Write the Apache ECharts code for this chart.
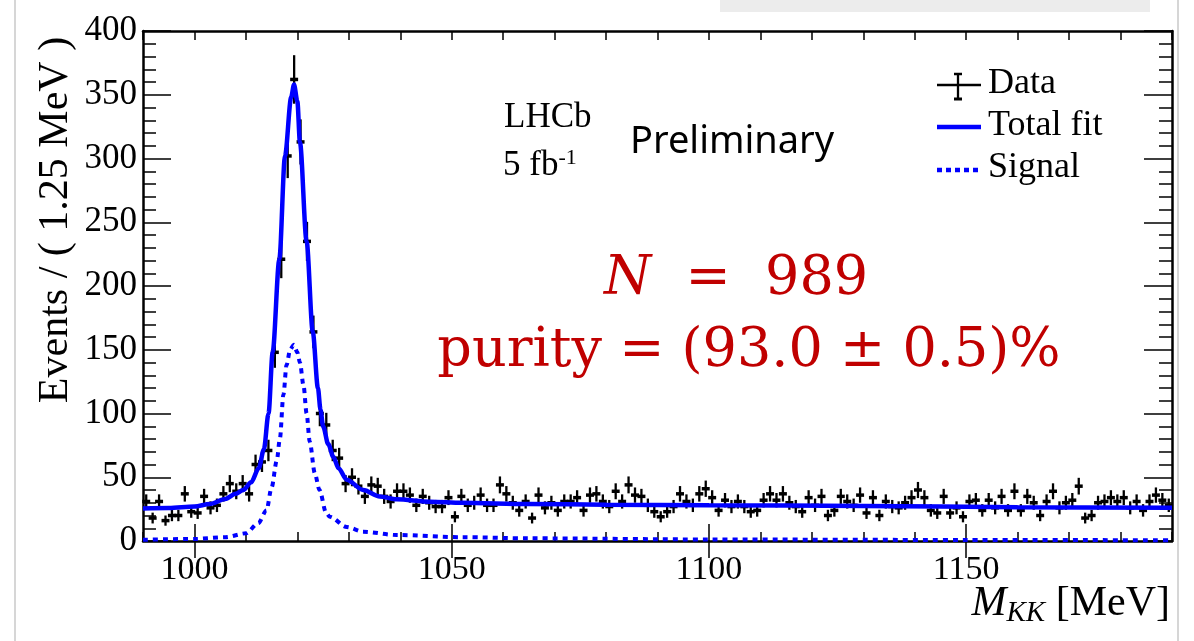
<!DOCTYPE html>
<html>
<head>
<meta charset="utf-8">
<script src="https://cdn.jsdelivr.net/npm/echarts@6/dist/echarts.min.js"></script>
<style>
html,body{margin:0;padding:0;background:#fff;}
#chart{width:1194px;height:641px;}
</style>
</head>
<body>
<div id="chart"></div>
<script>
// ---- Data ----
const binStart = 990;
const binWidth = 1.25;
const counts = [
  31, 18, 31, 16, 20, 20, 37, 23, 22, 35,
  26, 28, 37, 45, 39, 45, 37, 60, 62, 71,
  148, 221, 302, 362, 313, 235, 164, 100, 91, 71,
  65, 45, 50, 43, 35, 44, 43, 35, 31, 39,
  39, 36, 28, 35, 30, 27, 27, 34, 19, 35,
  28, 30, 36, 28, 28, 44, 37, 30, 24, 31,
  18, 36, 26, 30, 24, 31, 31, 34, 24, 36,
  37, 31, 27, 39, 31, 44, 36, 35, 28, 23,
  19, 23, 27, 37, 31, 28, 37, 41, 34, 24,
  32, 27, 31, 27, 23, 24, 32, 37, 32, 37,
  30, 27, 23, 34, 28, 35, 20, 24, 35, 31,
  28, 36, 22, 34, 20, 31, 27, 26, 30, 34,
  40, 34, 24, 22, 35, 22, 26, 19, 31, 32,
  24, 32, 26, 35, 24, 39, 24, 35, 30, 20,
  31, 39, 26, 30, 32, 43, 18, 20, 30, 31,
  34, 31, 34, 26, 31, 24, 31, 36, 32, 28
];
const massCenters = counts.map((_, i) => binStart + binWidth * (i + 0.5));

const totalFitX = [990, 995, 1000, 1003, 1006, 1008, 1009.5, 1011, 1012.5, 1013.5, 1014.4, 1015.2, 1016.5, 1017.6, 1018.8, 1019.35, 1020, 1020.5, 1021.8, 1023, 1024, 1024.5, 1025, 1026, 1027, 1028, 1029.6, 1032.8, 1036, 1039.3, 1045.8, 1052, 1065, 1080, 1100, 1130, 1160, 1190];
const totalFitY = [25.5, 25.8, 27, 29, 33, 37, 40, 46, 57, 72, 100, 148, 221, 302, 348, 358, 345, 313, 235, 164, 120, 103, 90, 76, 66, 57, 48, 40, 35, 32.7, 30.8, 30, 29, 28.5, 28, 27.5, 26.5, 26];

const signalX = [990, 1000, 1006, 1010, 1012.4, 1014, 1015, 1016, 1016.6, 1017.3, 1017.9, 1018.6, 1019.3, 1020, 1020.5, 1021.2, 1021.8, 1022.4, 1023.4, 1024.3, 1025.6, 1026.3, 1029.6, 1032.8, 1039.3, 1052, 1065, 1100, 1150, 1190];
const signalY = [1, 1.6, 3, 6, 14, 24, 42, 63, 80, 115, 138, 150, 154, 148, 140, 122, 100, 78, 53, 40, 22, 19, 11, 7.3, 4.7, 3, 2.1, 1.2, 0.8, 0.6];

const xTickLabels = [1000, 1050, 1100, 1150];
const yTickLabels = [0, 50, 100, 150, 200, 250, 300, 350, 400];

// ---- Chart ----
const chart = echarts.init(document.getElementById('chart'), null, {renderer: 'canvas'});
const SERIF = "'Liberation Serif', 'Times New Roman', serif";
const BLUE = '#0000ff';
const RED = '#c00000';

const baseX = {
  type: 'value', min: 990, max: 1190, interval: 10,
  splitLine: {show: false},
  axisLine: {show: true, onZero: false, lineStyle: {color: '#000', width: 2.5}},
  axisTick: {show: true, inside: true, length: 9, lineStyle: {color: '#000', width: 1.5}},
  axisLabel: {show: false}
};
const majorX = {
  type: 'value', min: 990, max: 1190,
  splitLine: {show: false},
  axisLine: {show: false},
  axisTick: {show: true, inside: true, length: 17, customValues: xTickLabels, lineStyle: {color: '#000', width: 1.5}},
  axisLabel: {show: false}
};

const option = {
  backgroundColor: '#fff',
  animation: false,
  grid: {left: 143, right: 22, top: 31, bottom: 100, containLabel: false},
  xAxis: [
    Object.assign({}, baseX, {position: 'bottom'}),
    Object.assign({}, majorX, {position: 'bottom',
      axisLabel: {show: true, customValues: xTickLabels, color: '#000', fontFamily: SERIF, fontSize: 34, margin: 12,
        formatter: v => String(v)}}),
    Object.assign({}, baseX, {position: 'top'}),
    Object.assign({}, majorX, {position: 'top'})
  ],
  yAxis: [
    {
      type: 'value', min: 0, max: 400, interval: 50, position: 'left',
      splitLine: {show: false},
      axisLine: {show: true, onZero: false, lineStyle: {color: '#000', width: 2.5}},
      axisTick: {show: true, inside: true, length: 28, lineStyle: {color: '#000', width: 1.5}},
      minorTick: {show: true, splitNumber: 5, length: 13, lineStyle: {color: '#000', width: 1.5}},
      axisLabel: {show: true, color: '#000', fontFamily: SERIF, fontSize: 35, margin: 6,
        formatter: v => (yTickLabels.indexOf(v) >= 0 ? String(v) : '')}
    },
    {
      type: 'value', min: 0, max: 400, interval: 50, position: 'right',
      splitLine: {show: false},
      axisLine: {show: true, onZero: false, lineStyle: {color: '#000', width: 2.5}},
      axisTick: {show: true, inside: true, length: 28, lineStyle: {color: '#000', width: 1.5}},
      minorTick: {show: true, splitNumber: 5, length: 13, lineStyle: {color: '#000', width: 1.5}},
      axisLabel: {show: false}
    }
  ],
  series: [
    {
      name: 'Data', type: 'custom', xAxisIndex: 0, yAxisIndex: 0, z: 2,
      data: counts.map((c, i) => [massCenters[i], c]),
      renderItem: function (params, api) {
        const x = api.value(0), y = api.value(1), e = Math.sqrt(y);
        const top = api.coord([x, y + e]);
        const bot = api.coord([x, Math.max(0, y - e)]);
        const l = api.coord([x - binWidth * 0.62, y]);
        const r = api.coord([x + binWidth * 0.62, y]);
        return {
          type: 'group',
          children: [
            {type: 'line', shape: {x1: top[0], y1: top[1], x2: bot[0], y2: bot[1]}, style: {stroke: '#000', lineWidth: 2.3}},
            {type: 'line', shape: {x1: l[0], y1: l[1], x2: r[0], y2: r[1]}, style: {stroke: '#000', lineWidth: 3.5}}
          ]
        };
      }
    },
    {
      name: 'Signal', type: 'line', xAxisIndex: 0, yAxisIndex: 0, z: 3,
      data: signalX.map((x, i) => [x, signalY[i]]),
      showSymbol: false, smooth: 0.3, smoothMonotone: 'x',
      lineStyle: {color: BLUE, width: 4, type: [5, 5]}
    },
    {
      name: 'Total fit', type: 'line', xAxisIndex: 0, yAxisIndex: 0, z: 4,
      data: totalFitX.map((x, i) => [x, totalFitY[i]]),
      showSymbol: false, smooth: 0.3, smoothMonotone: 'x',
      lineStyle: {color: BLUE, width: 4.5}
    }
  ],
  graphic: [
    // frame decorations of the screenshot
    {type: 'rect', shape: {x: 720, y: 0, width: 430, height: 12}, style: {fill: '#ececec'}, silent: true},
    {type: 'line', shape: {x1: 15, y1: 0, x2: 15, y2: 641}, style: {stroke: '#d6d6d6', lineWidth: 2}, silent: true},
    {type: 'line', shape: {x1: 1178, y1: 0, x2: 1178, y2: 641}, style: {stroke: '#d6d6d6', lineWidth: 2}, silent: true},
    // axis titles
    {type: 'text', x: 56, y: 220, rotation: Math.PI / 2,
      style: {text: 'Events / ( 1.25 MeV )', font: '42px ' + SERIF, fill: '#000', align: 'center', verticalAlign: 'middle'}},
    {type: 'text', x: 1170, y: 604,
      style: {
        text: '{i|M}{s|KK}{n| [MeV]}', align: 'right', verticalAlign: 'middle',
        rich: {
          i: {font: 'italic 42px ' + SERIF, fill: '#000'},
          s: {font: 'italic 29px ' + SERIF, fill: '#000', padding: [18, 0, 0, 0]},
          n: {font: '42px ' + SERIF, fill: '#000'}
        }
      }},
    // LHCb labels
    {type: 'text', x: 504, y: 118, style: {text: 'LHCb', font: '35px ' + SERIF, fill: '#000', verticalAlign: 'middle'}},
    {type: 'text', x: 503, y: 166,
      style: {text: '{n|5 fb}{s|-1}', verticalAlign: 'middle',
        rich: {n: {font: '35px ' + SERIF, fill: '#000'}, s: {font: '22px ' + SERIF, fill: '#000', padding: [0, 0, 16, 0]}}}},
    {type: 'text', x: 630, y: 142, style: {text: 'Preliminary', font: '38px "Noto Sans", sans-serif', fill: '#000', verticalAlign: 'middle'}},
    // result annotations
    {type: 'text', x: 736, y: 280,
      style: {text: '{i|N}{n|  =  989}', align: 'center', verticalAlign: 'middle',
        rich: {i: {font: 'italic 54px "DejaVu Serif", serif', fill: RED}, n: {font: '54px "DejaVu Serif", serif', fill: RED}}}},
    {type: 'text', x: 749, y: 352,
      style: {text: 'purity = (93.0 ± 0.5)%', font: '54px "DejaVu Serif", serif', fill: RED, align: 'center', verticalAlign: 'middle'}},
    // legend
    {type: 'line', shape: {x1: 937, y1: 85, x2: 981, y2: 85}, style: {stroke: '#000', lineWidth: 2.3}},
    {type: 'line', shape: {x1: 958, y1: 74, x2: 958, y2: 99}, style: {stroke: '#000', lineWidth: 2.3}},
    {type: 'line', shape: {x1: 954, y1: 74, x2: 962, y2: 74}, style: {stroke: '#000', lineWidth: 2.5}},
    {type: 'line', shape: {x1: 954, y1: 99, x2: 962, y2: 99}, style: {stroke: '#000', lineWidth: 3}},
    {type: 'text', x: 988, y: 84, style: {text: 'Data', font: '36px ' + SERIF, fill: '#000', verticalAlign: 'middle'}},
    {type: 'line', shape: {x1: 937, y1: 127, x2: 981, y2: 127}, style: {stroke: BLUE, lineWidth: 4.5}},
    {type: 'text', x: 988, y: 126, style: {text: 'Total fit', font: '36px ' + SERIF, fill: '#000', verticalAlign: 'middle'}},
    {type: 'line', shape: {x1: 937, y1: 170, x2: 981, y2: 170}, style: {stroke: BLUE, lineWidth: 4.5, lineDash: [5, 4]}},
    {type: 'text', x: 988, y: 168, style: {text: 'Signal', font: '36px ' + SERIF, fill: '#000', verticalAlign: 'middle'}}
  ]
};
chart.setOption(option);
</script>
</body>
</html>
